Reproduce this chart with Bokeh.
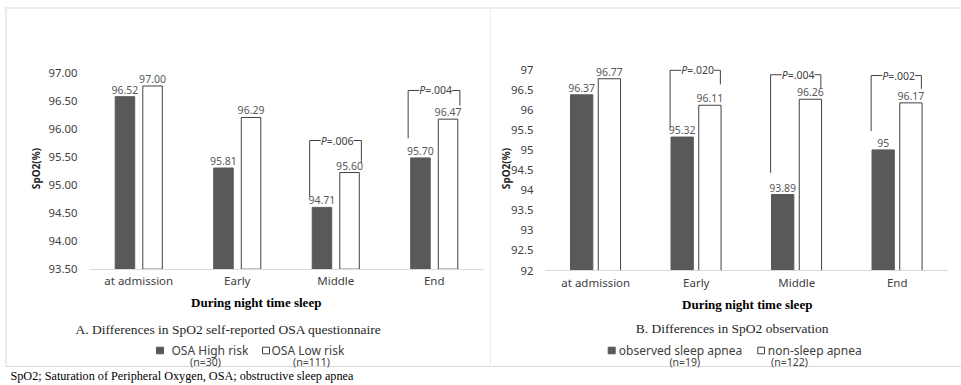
import math
from bokeh.plotting import figure
from bokeh.models import Range1d, FixedTicker, ColumnDataSource
from bokeh.layouts import row
from bokeh.transform import dodge
from bokeh.core.properties import value
from bokeh.embed import file_html
from bokeh.resources import INLINE

# ---------------- data ----------------
categories = ["at admission", "Early", "Middle", "End"]

# Panel A: self-reported OSA questionnaire (bar heights as drawn, printed labels)
a_high = [96.57, 95.30, 94.60, 95.48]
a_low = [96.76, 96.20, 95.22, 96.17]
a_high_lbl = ["96.52", "95.81", "94.71", "95.70"]
a_low_lbl = ["97.00", "96.29", "95.60", "96.47"]
a_ticks = [93.5, 94.0, 94.5, 95.0, 95.5, 96.0, 96.5, 97.0]
a_tick_lbl = ["93.50", "94.00", "94.50", "95.00", "95.50", "96.00", "96.50", "97.00"]

# Panel B: observation
b_obs = [96.37, 95.32, 93.89, 95.00]
b_non = [96.77, 96.11, 96.26, 96.17]
b_obs_lbl = ["96.37", "95.32", "93.89", "95"]
b_non_lbl = ["96.77", "96.11", "96.26", "96.17"]
b_ticks = [92, 92.5, 93, 93.5, 94, 94.5, 95, 95.5, 96, 96.5, 97]
b_tick_lbl = ["92", "92.5", "93", "93.5", "94", "94.5", "95", "95.5", "96", "96.5", "97"]

# significance brackets: category, p text, bracket top, left / right ends
a_p_cat = ["Middle", "End"]
a_p_txt = ["=.006", "=.004"]
a_p_top = [95.79, 96.68]
a_p_lbot = [94.79, 95.83]
a_p_rbot = [95.39, 96.41]

b_p_cat = ["Early", "Middle", "End"]
b_p_txt = ["=.020", "=.004", "=.002"]
b_p_top = [96.98, 96.87, 96.85]
b_p_lbot = [95.56, 94.43, 95.47]
b_p_rbot = [96.63, 96.52, 96.52]

legend_a = ["OSA High risk", "OSA Low risk"]
legend_a_n = ["(n=30)", "(n=111)"]
legend_b = ["observed sleep apnea", "non-sleep apnea"]
legend_b_n = ["(n=19)", "(n=122)"]

SANS = "Noto Sans"
SERIF = "Liberation Serif"
DARK = "#595959"
EDGE = "#404040"
BORDER = "#d9d9d9"
H = 385


class Map:
    """page-pixel -> data coordinate helper for one panel"""
    def __init__(self, left, width, x0_px, x4_px, yb_px, yb_val, yt_px, yt_val):
        self.left, self.width = left, width
        self.sx = (x4_px - x0_px) / 4.0
        self.x0_px = x0_px
        self.sy = (yb_px - yt_px) / (yt_val - yb_val)
        self.yb_px, self.yb_val = yb_px, yb_val

    def x(self, px):
        return (px - self.x0_px) / self.sx

    def y(self, py):
        return self.yb_val + (self.yb_px - py) / self.sy


def make_panel(m, ybase, ticks, tick_lbl, s1, s2, l1, l2, bw, off1, off2,
               pc, ptxt, ptop, plbot, prbot, lo, ro):
    p = figure(width=m.width, height=H, output_backend="svg", toolbar_location=None,
               x_range=Range1d(m.x(m.left), m.x(m.left + m.width)),
               y_range=Range1d(m.y(H), m.y(0)), min_border=0)
    p.min_border_left = p.min_border_right = p.min_border_top = p.min_border_bottom = 0
    p.background_fill_color = "white"
    p.border_fill_color = "white"
    p.outline_line_color = None
    p.grid.visible = False

    xc = [i + 0.5 for i in range(len(categories))]
    src = ColumnDataSource(dict(xc=xc, s1=s1, s2=s2, l1=l1, l2=l2))
    p.vbar(x=dodge("xc", off1), top="s1", bottom=ybase, width=bw, source=src,
           fill_color=DARK, line_color=DARK, line_width=1)
    p.vbar(x=dodge("xc", off2), top="s2", bottom=ybase, width=bw, source=src,
           fill_color="white", line_color=EDGE, line_width=1)
    for fld, lfld, off in (("s1", "l1", off1), ("s2", "l2", off2)):
        p.text(x=dodge("xc", off), y=fld, text=lfld, source=src,
               text_align="center", text_baseline="middle", y_offset=-7,
               text_font=value(SANS), text_font_size="10.5px", text_color=DARK)

    pxc = [categories.index(c) + 0.5 for c in pc]
    psrc = ColumnDataSource(dict(xc=pxc, txt=ptxt, top=ptop, lb=plbot, rb=prbot,
                                 P=["P"] * len(pc)))
    p.segment(x0=dodge("xc", lo), x1=dodge("xc", ro), y0="top", y1="top",
              source=psrc, line_color=EDGE, line_width=1)
    p.segment(x0=dodge("xc", lo), x1=dodge("xc", lo), y0="top", y1="lb",
              source=psrc, line_color=EDGE, line_width=1)
    p.segment(x0=dodge("xc", ro), x1=dodge("xc", ro), y0="top", y1="rb",
              source=psrc, line_color=EDGE, line_width=1)
    p.text(x="xc", y="top", text="txt", source=psrc,
           text_align="left", text_baseline="middle", x_offset=-9,
           text_font=value(SANS), text_font_size="10.5px", text_color=EDGE,
           background_fill_color="white", padding=0)
    p.text(x="xc", y="top", text="P", source=psrc,
           text_align="right", text_baseline="middle", x_offset=-9,
           text_font=value(SANS), text_font_size="10.5px", text_font_style="italic",
           text_color=EDGE, background_fill_color="white", padding=0)

    ya = p.yaxis[0]
    ya.fixed_location = 0
    ya.bounds = (ticks[0], ticks[-1])
    ya.ticker = FixedTicker(ticks=ticks)
    ya.major_label_overrides = {t: s for t, s in zip(ticks, tick_lbl)}
    ya.axis_line_color = None
    ya.major_tick_line_color = None
    ya.minor_tick_line_color = None
    ya.major_tick_out = 0
    ya.major_label_standoff = 12
    ya.major_label_text_font = SANS
    ya.major_label_text_font_size = "11.3px"
    ya.major_label_text_color = EDGE

    xa = p.xaxis[0]
    xa.fixed_location = ybase
    xa.bounds = (0, len(categories))
    xa.ticker = FixedTicker(ticks=xc)
    xa.major_label_overrides = {t: s for t, s in zip(xc, categories)}
    xa.axis_line_color = BORDER
    xa.major_tick_line_color = None
    xa.minor_tick_line_color = None
    xa.major_tick_out = 0
    xa.major_label_standoff = 4
    xa.major_label_text_font = SANS
    xa.major_label_text_font_size = "11.5px"
    xa.major_label_text_color = EDGE
    return p


def txt(p, m, px, py, text, font=SANS, size="12px", style="normal", color=EDGE,
        align="center", baseline="middle", angle=0.0):
    p.text(x=[m.x(px)], y=[m.y(py)], text=[text], angle=angle,
           text_font=value(font), text_font_size=size, text_font_style=style,
           text_color=color, text_align=align, text_baseline=baseline)


def square(p, m, l, r, t, b, fill, line):
    p.quad(left=[m.x(l)], right=[m.x(r)], top=[m.y(t)], bottom=[m.y(b)],
           fill_color=fill, line_color=line, line_width=1)


def hline(p, m, x0, x1, y):
    p.segment(x0=[m.x(x0)], x1=[m.x(x1)], y0=[m.y(y)], y1=[m.y(y)],
              line_color=BORDER, line_width=1)


def vline(p, m, x, y0, y1):
    p.segment(x0=[m.x(x)], x1=[m.x(x)], y0=[m.y(y0)], y1=[m.y(y1)],
              line_color=BORDER, line_width=1)


# ---------------- panel A ----------------
mA = Map(0, 491, 89, 483, 268.7, 93.5, 72.0, 97.0)
pA = make_panel(mA, 93.5, a_ticks, a_tick_lbl, a_high, a_low, a_high_lbl, a_low_lbl,
                0.198, -0.14, 0.14, a_p_cat, a_p_txt, a_p_top, a_p_lbot, a_p_rbot,
                -0.265, 0.26)
hline(pA, mA, 5, 491, 7.5)
hline(pA, mA, 5, 491, 366)
vline(pA, mA, 5.5, 7, 366)
vline(pA, mA, 490.5, 7, 366)
txt(pA, mA, 35, 168, "SpO2(%)", size="10px", style="bold", color="#262626",
    angle=math.pi / 2)
txt(pA, mA, 255.7, 302, "During night time sleep", font=SERIF, size="13px",
    style="bold", color="black")
txt(pA, mA, 228, 329, "A. Differences in SpO2 self-reported OSA questionnaire",
    font=SERIF, size="13.5px", color="#262626")
square(pA, mA, 156, 163, 346.7, 353.3, DARK, DARK)
square(pA, mA, 262, 269, 346.7, 353.3, "white", EDGE)
txt(pA, mA, 171, 350, legend_a[0], align="left")
txt(pA, mA, 271, 350, legend_a[1], align="left")
txt(pA, mA, 205, 361, legend_a_n[0], size="10.5px")
txt(pA, mA, 311, 361, legend_a_n[1], size="10.5px")
txt(pA, mA, 10, 375, "SpO2; Saturation of Peripheral Oxygen, OSA; obstructive sleep apnea",
    font=SERIF, size="12.2px", color="black", align="left", baseline="middle")

# ---------------- panel B ----------------
mB = Map(491, 470, 545, 947, 270.0, 92.0, 69.0, 97.0)
pB = make_panel(mB, 92.0, b_ticks, b_tick_lbl, b_obs, b_non, b_obs_lbl, b_non_lbl,
                0.222, -0.14, 0.136, b_p_cat, b_p_txt, b_p_top, b_p_lbot, b_p_rbot,
                -0.26, 0.24)
hline(pB, mB, 491, 961, 7.5)
hline(pB, mB, 491, 961, 366)
txt(pB, mB, 505, 168, "SpO2(%)", size="10px", style="bold", color="#262626",
    angle=math.pi / 2)
txt(pB, mB, 746.7, 304, "During night time sleep", font=SERIF, size="13px",
    style="bold", color="black")
txt(pB, mB, 731.7, 327.7, "B. Differences in SpO2 observation",
    font=SERIF, size="13.5px", color="#262626")
square(pB, mB, 607.7, 614.7, 346.7, 353.3, DARK, DARK)
square(pB, mB, 757.3, 764, 346.7, 353.3, "white", EDGE)
txt(pB, mB, 618.3, 350, legend_b[0], align="left")
txt(pB, mB, 767.3, 350, legend_b[1], align="left")
txt(pB, mB, 684.3, 361, legend_b_n[0], size="10.5px")
txt(pB, mB, 789, 361, legend_b_n[1], size="10.5px")

layout = row(pA, pB)
open("out.html", "w").write(file_html(layout, INLINE))
